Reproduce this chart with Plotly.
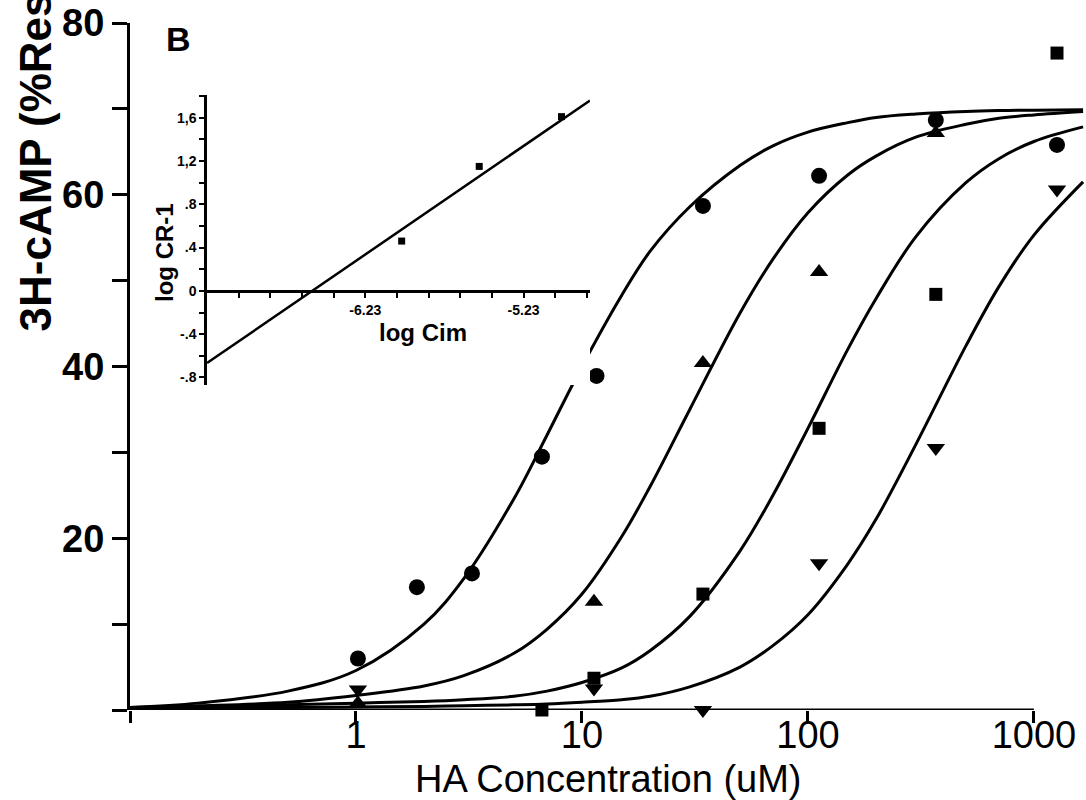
import plotly.graph_objects as go

# ---------------- main panel data ----------------
circ_x = [1.02, 1.86, 3.26, 6.65, 11.6, 34.3, 112, 368, 1265]
circ_y = [6.0, 14.3, 15.9, 29.5, 38.9, 58.7, 62.2, 68.7, 65.8]

tri_x = [1.02, 11.3, 34.3, 112, 368]
tri_y = [0.8, 12.6, 40.4, 51.0, 67.2]

sq_x = [1.86, 3.26, 6.65, 11.3, 34.3, 112, 368, 1265]
sq_y = [-0.2, -0.2, 0.0, 3.7, 13.5, 32.8, 48.4, 76.5]

tdn_x = [1.02, 11.3, 34.3, 112, 368, 1265]
tdn_y = [2.4, 2.5, 0.0, 17.1, 30.5, 60.6]

curve_x = [0.1, 0.2, 0.5, 1, 2, 3, 5, 7, 10, 15, 20, 30, 50, 70, 100, 150, 200, 300, 500, 700, 1000, 1650]
curve1_y = [0.3, 0.8, 2.2, 4.6, 10.0, 15.3, 24.6, 32.0, 40.0, 48.3, 53.4, 58.6, 63.4, 65.7, 67.3, 68.4, 69.0, 69.4, 69.7, 69.8, 69.85, 69.9]
curve2_y = [0.3, 0.5, 0.9, 1.7, 2.8, 4.0, 6.6, 9.4, 13.5, 20.2, 26.0, 35.0, 46.2, 52.5, 57.9, 62.3, 64.5, 66.7, 68.2, 68.9, 69.3, 69.7]
curve3_y = [0.25, 0.4, 0.6, 0.8, 1.0, 1.2, 1.6, 2.2, 3.2, 4.9, 6.9, 10.9, 18.5, 25.0, 32.8, 42.0, 47.9, 55.1, 61.4, 64.2, 66.2, 67.9]
curve4_y = [0.2, 0.25, 0.3, 0.35, 0.42, 0.5, 0.6, 0.7, 0.9, 1.2, 1.6, 2.7, 5.0, 7.5, 11.1, 17.0, 22.2, 30.9, 42.4, 49.3, 55.3, 61.5]

x_tickvals = [0.1, 1, 10, 100, 1000]
x_ticktext = ["", "1", "10", "100", "1000"]
y_tickvals = [0, 10, 20, 30, 40, 50, 60, 70, 80]
y_ticktext = ["", "", "20", "", "40", "", "60", "", "80"]

# ---------------- inset data ----------------
inset_pts_x = [-6.00, -5.51, -4.99]
inset_pts_y = [0.46, 1.15, 1.61]
inset_line_x = [-7.23, -4.81]
inset_line_y = [-0.667, 1.76]
inset_xtickvals = [-7.03, -6.83, -6.63, -6.43, -6.23, -6.03, -5.83, -5.63, -5.43, -5.23, -5.03, -4.83]
inset_xticktext = ["", "", "", "", "-6.23", "", "", "", "", "-5.23", "", ""]
inset_ytickvals = [-0.8, -0.6, -0.4, -0.2, 0, 0.2, 0.4, 0.6, 0.8, 1.0, 1.2, 1.4, 1.6, 1.8]
inset_yticktext = ["-.8", "", "-.4", "", "0", "", ".4", "", ".8", "", "1,2", "", "1,6", ""]

FONT = "Liberation Sans"
L, R, T, B = 130, 1, 23, 90
PW = 1086 - L - R
PH = 800 - T - B


def px(xp):
    return (xp - L) / PW


def py(yp):
    return (800 - B - yp) / PH


fig = go.Figure()

for cy in [curve1_y, curve2_y, curve3_y, curve4_y]:
    fig.add_trace(go.Scatter(x=curve_x, y=cy, mode="lines", cliponaxis=False,
                             line=dict(color="black", width=3, shape="spline"),
                             showlegend=False, hoverinfo="skip"))

fig.add_trace(go.Scatter(x=circ_x, y=circ_y, mode="markers", cliponaxis=False,
                         marker=dict(symbol="circle", size=16, color="black"), showlegend=False))
fig.add_trace(go.Scatter(x=tri_x, y=tri_y, mode="markers", cliponaxis=False,
                         marker=dict(symbol="triangle-up", size=16, color="black"), showlegend=False))
fig.add_trace(go.Scatter(x=sq_x, y=sq_y, mode="markers", cliponaxis=False,
                         marker=dict(symbol="square", size=13, color="black"), showlegend=False))
fig.add_trace(go.Scatter(x=tdn_x, y=tdn_y, mode="markers", cliponaxis=False,
                         marker=dict(symbol="triangle-down", size=16, color="black"), showlegend=False))

# inset
fig.add_trace(go.Scatter(x=inset_line_x, y=inset_line_y, mode="lines", xaxis="x2", yaxis="y2",
                         cliponaxis=False, line=dict(color="black", width=2.5), showlegend=False))
fig.add_trace(go.Scatter(x=inset_pts_x, y=inset_pts_y, mode="markers", xaxis="x2", yaxis="y2",
                         cliponaxis=False, marker=dict(symbol="square", size=7, color="black"),
                         showlegend=False))

fig.update_layout(
    width=1086, height=800,
    margin=dict(l=L, r=R, t=T, b=B, autoexpand=False),
    paper_bgcolor="white", plot_bgcolor="white",
    xaxis=dict(type="log", range=[-1, 3.226], tickvals=x_tickvals, ticktext=x_ticktext,
               ticks="outside", ticklen=12, tickwidth=3, tickcolor="black",
               ticklabelstandoff=-21, automargin=False,
               showline=False, showgrid=False, zeroline=False,
               tickfont=dict(family=FONT, size=38, color="black")),
    yaxis=dict(range=[0, 80], tickvals=y_tickvals, ticktext=y_ticktext, automargin=False,
               ticks="outside", ticklen=15, tickwidth=3, tickcolor="black",
               showline=True, linewidth=3, linecolor="black", showgrid=False, zeroline=False,
               tickfont=dict(family=FONT, size=38, color="black", weight="bold")),
    xaxis2=dict(domain=[px(207), px(590)], anchor="free", position=py(291), automargin=False,
                range=[-7.23, -4.81], tickvals=inset_xtickvals, ticktext=inset_xticktext,
                ticks="outside", ticklen=5, tickwidth=2, tickcolor="black",
                showline=True, linewidth=2.5, linecolor="black", showgrid=False, zeroline=False,
                tickfont=dict(family=FONT, size=14, color="black", weight="bold")),
    yaxis2=dict(domain=[py(385), py(95)], anchor="x2", range=[-0.87, 1.81], automargin=False,
                tickvals=inset_ytickvals, ticktext=inset_yticktext,
                ticks="outside", ticklen=5, tickwidth=2, tickcolor="black",
                showline=True, linewidth=2.5, linecolor="black", showgrid=False, zeroline=False,
                tickfont=dict(family=FONT, size=14, color="black", weight="bold")),
    shapes=[
        # main x-axis line: runs from the first to the last tick only
        dict(type="line", xref="x", yref="y", x0=x_tickvals[0], x1=x_tickvals[-1],
             y0=y_tickvals[0], y1=y_tickvals[0], line=dict(color="black", width=3)),
    ],
    annotations=[
        dict(text="3H-cAMP (%Response)", textangle=-90, xref="paper", yref="paper",
             x=px(35), y=py(334), xanchor="center", yanchor="bottom", showarrow=False,
             font=dict(family=FONT, size=44, color="black", weight="bold")),
        dict(text="HA Concentration (uM)", xref="paper", yref="paper",
             x=px(608), y=py(779), xanchor="center", yanchor="middle",
             showarrow=False, font=dict(family=FONT, size=38, color="black")),
        dict(text="B", xref="paper", yref="paper", x=px(178), y=py(39),
             xanchor="center", yanchor="middle", showarrow=False,
             font=dict(family=FONT, size=34, color="black", weight="bold")),
        dict(text="log CR-1", textangle=-90, xref="paper", yref="paper",
             x=px(165), y=py(253), xanchor="center", yanchor="middle",
             showarrow=False, font=dict(family=FONT, size=24, color="black", weight="bold")),
        dict(text="log Cim", xref="paper", yref="paper",
             x=px(423), y=py(332), xanchor="center", yanchor="middle",
             showarrow=False, font=dict(family=FONT, size=24, color="black", weight="bold")),
    ],
)

fig.write_html("out.html")
